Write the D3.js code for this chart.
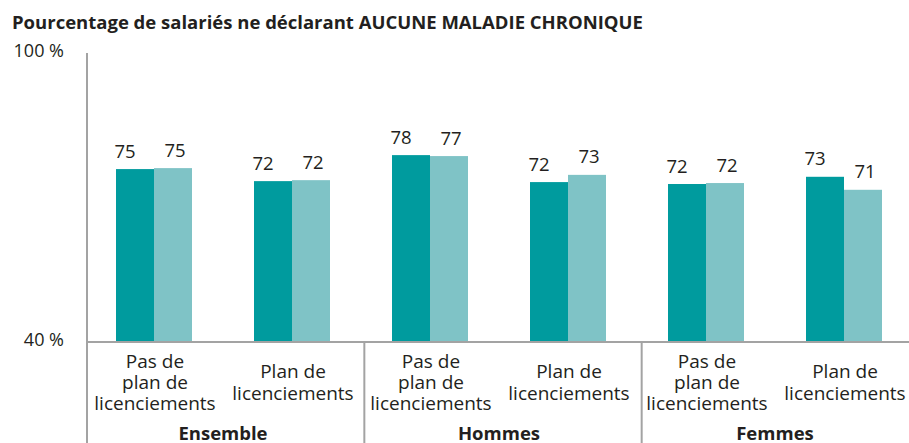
<!DOCTYPE html>
<meta charset="utf-8">
<head>
  <title>Maladie chronique</title>
  <script src="https://cdnjs.cloudflare.com/ajax/libs/d3/7.8.5/d3.min.js"></script>
</head>
<style>
  body {
    margin: 0;
    background: white;
    font-family: "Open Sans", sans-serif;
  }
  text {
    fill: #231f20;
  }
</style>
<body>
<div id="chart"></div>
<script>
// donnees
var groupes = ["Ensemble", "Hommes", "Femmes"];
var sousCategories = [["Pas de", "plan de", "licenciements"], ["Plan de", "licenciements"]];
var series = ["fonce", "clair"];
var valeursFonce = [75.9, 73.4, 78.8, 73.2, 72.8, 74.3];
var valeursClair = [76.1, 73.6, 78.6, 74.7, 73.0, 71.6];
var etiquettesFonce = [75, 72, 78, 72, 72, 73];
var etiquettesClair = [75, 72, 77, 73, 72, 71];
var ticksY = [40, 100];

var WIDTH = 909;
var HEIGHT = 443;
var couleurs = {fonce: "#009b9e", clair: "#7fc3c6"};
var gris = "#a3a3a3";

var svg = d3.select("#chart").append("svg")
  .attr("width", WIDTH)
  .attr("height", HEIGHT);

// une bande par paire de barres (groupe x sous-categorie)
var cases = [];
groupes.forEach(function(g, gi) {
  sousCategories.forEach(function(s, si) {
    cases.push({groupe: g, lignes: s, i: cases.length});
  });
});

var x0 = d3.scaleBand()
  .domain(d3.range(cases.length))
  .range([85, 913]);

var x1 = d3.scaleBand()
  .domain(series)
  .range([31, 107]);

var xg = d3.scaleBand()
  .domain(groupes)
  .range([87, 919]);

var y = d3.scaleLinear()
  .domain([40, 100])
  .range([342, 53]);

// titre
svg.append("text")
  .attr("x", 12)
  .attr("y", 29)
  .style("font-weight", "bold")
  .style("font-size", "18.5px")
  .text("Pourcentage de salariés ne déclarant AUCUNE MALADIE CHRONIQUE");

// axe vertical
svg.append("line")
  .attr("x1", xg(groupes[0])).attr("x2", xg(groupes[0]))
  .attr("y1", y(100)).attr("y2", HEIGHT)
  .attr("stroke", gris)
  .attr("stroke-width", 2);

svg.selectAll(".tickY")
  .data(ticksY)
  .enter().append("text")
  .attr("class", "tickY")
  .attr("x", 64)
  .attr("y", function(d) { return y(d) + 4; })
  .attr("text-anchor", "end")
  .style("font-size", "18px")
  .text(function(d) { return d + " %"; });

// barres
var valeurs = {fonce: valeursFonce, clair: valeursClair};
var etiquettes = {fonce: etiquettesFonce, clair: etiquettesClair};
var decalage = {fonce: 9, clair: 21};

series.forEach(function(s) {
  svg.selectAll(".bar-" + s)
    .data(cases)
    .enter().append("rect")
    .attr("class", "bar-" + s)
    .attr("x", function(d) { return x0(d.i) + x1(s); })
    .attr("y", function(d) { return y(valeurs[s][d.i]); })
    .attr("width", x1.bandwidth())
    .attr("height", function(d) { return y(40) - y(valeurs[s][d.i]); })
    .attr("fill", couleurs[s]);

  svg.selectAll(".lab-" + s)
    .data(cases)
    .enter().append("text")
    .attr("class", "lab-" + s)
    .attr("x", function(d) { return x0(d.i) + x1(s) + decalage[s]; })
    .attr("y", function(d) { return y(valeurs[s][d.i]) - 11.5; })
    .attr("text-anchor", "middle")
    .style("font-size", "18.5px")
    .text(function(d) { return etiquettes[s][d.i]; });
});

// ligne de base et separateurs
svg.append("line")
  .attr("x1", xg(groupes[0])).attr("x2", WIDTH)
  .attr("y1", y(40)).attr("y2", y(40))
  .attr("stroke", gris)
  .attr("stroke-width", 2);

svg.selectAll(".sep")
  .data(groupes.slice(1))
  .enter().append("line")
  .attr("class", "sep")
  .attr("x1", function(d) { return xg(d); })
  .attr("x2", function(d) { return xg(d); })
  .attr("y1", y(40))
  .attr("y2", HEIGHT)
  .attr("stroke", gris)
  .attr("stroke-width", 2);

// etiquettes des categories
var cat = svg.selectAll(".cat")
  .data(cases)
  .enter().append("text")
  .attr("class", "cat")
  .attr("text-anchor", "middle")
  .style("font-size", "19px");

cat.selectAll("tspan")
  .data(function(d) {
    var n = d.lignes.length;
    return d.lignes.map(function(l, k) {
      return {t: l, x: x0(d.i) + x0.bandwidth() / 2 + 1, y: 389 + (k - (n - 1) / 2) * 21.3};
    });
  })
  .enter().append("tspan")
  .attr("x", function(d) { return d.x; })
  .attr("y", function(d) { return d.y; })
  .text(function(d) { return d.t; });

// noms des groupes
svg.selectAll(".grp")
  .data(groupes)
  .enter().append("text")
  .attr("class", "grp")
  .attr("x", function(d, i) { return x0(i * 2) + x0.bandwidth(); })
  .attr("y", 440)
  .attr("text-anchor", "middle")
  .style("font-weight", "bold")
  .style("font-size", "18.5px")
  .text(function(d) { return d; });
</script>
</body>
